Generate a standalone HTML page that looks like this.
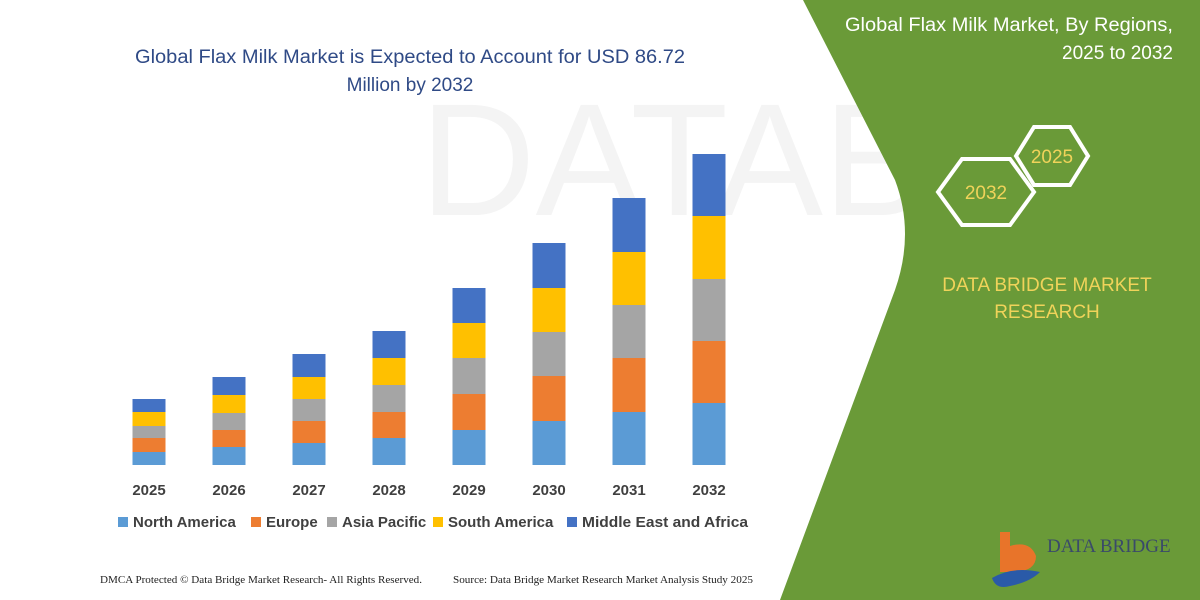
<!DOCTYPE html>
<html><head><meta charset="utf-8"><style>
body{margin:0;width:1200px;height:600px;overflow:hidden;background:#fff;font-family:"Liberation Sans",sans-serif}
</style></head><body>
<svg width="1200" height="600" xmlns="http://www.w3.org/2000/svg" style="position:absolute;left:0;top:0">
<rect width="1200" height="600" fill="#fff"/>
<text x="420" y="215" font-size="160" fill="#f4f4f4" font-family="Liberation Sans">DATABRIDGE</text>
<path d="M803,0 L1200,0 L1200,600 L780,600 L895,290 Q915,233 895,180 Z" fill="#6a9a38"/>
<text x="1173" y="31" font-size="19" fill="#fff" text-anchor="end" textLength="328" lengthAdjust="spacingAndGlyphs">Global Flax Milk Market, By Regions,</text>
<text x="1173" y="59" font-size="19" fill="#fff" text-anchor="end">2025 to 2032</text>
<polygon points="938,192 962,159 1010,159 1034,192 1010,225 962,225" fill="none" stroke="#fff" stroke-width="4"/>
<polygon points="1016,156 1034,127 1070,127 1088,156 1070,185 1034,185" fill="none" stroke="#fff" stroke-width="4"/>
<text x="986" y="199" font-size="19" fill="#f0d35a" text-anchor="middle">2032</text>
<text x="1052" y="163" font-size="19" fill="#f0d35a" text-anchor="middle">2025</text>
<text x="1047" y="291" font-size="19" fill="#f0d35a" text-anchor="middle">DATA BRIDGE MARKET</text>
<text x="1047" y="318" font-size="19" fill="#f0d35a" text-anchor="middle">RESEARCH</text>
<path d="M1000,532 h10 v14 q20,-6 26,10 q0,16 -24,16 h-12 z" fill="#e8742a"/>
<path d="M992,578 q20,-12 48,-6 q-10,10 -30,14 q-14,4 -18,-8z" fill="#2a5aa8"/>
<text x="1047" y="552" font-size="19" fill="#3a4a6a" font-family="Liberation Serif">DATA BRIDGE</text>
<text x="410" y="63" font-size="19" fill="#2f4a86" text-anchor="middle" textLength="550" lengthAdjust="spacingAndGlyphs">Global Flax Milk Market is Expected to Account for USD 86.72</text>
<text x="410" y="91" font-size="19" fill="#2f4a86" text-anchor="middle">Million by 2032</text>
<g id="bars"></g>
<g font-size="15" font-weight="bold" fill="#404040" text-anchor="middle">
<text x="149" y="495">2025</text><text x="229" y="495">2026</text><text x="309" y="495">2027</text><text x="389" y="495">2028</text><text x="469" y="495">2029</text><text x="549" y="495">2030</text><text x="629" y="495">2031</text><text x="709" y="495">2032</text>
</g>
<g font-size="15" font-weight="bold" fill="#404040">
<rect x="118" y="517" width="10" height="10" fill="#5b9bd5"/><text x="133" y="527">North America</text>
<rect x="251" y="517" width="10" height="10" fill="#ed7d31"/><text x="266" y="527">Europe</text>
<rect x="327" y="517" width="10" height="10" fill="#a5a5a5"/><text x="342" y="527">Asia Pacific</text>
<rect x="433" y="517" width="10" height="10" fill="#ffc000"/><text x="448" y="527">South America</text>
<rect x="567" y="517" width="10" height="10" fill="#4472c4"/><text x="582" y="527" textLength="166" lengthAdjust="spacingAndGlyphs">Middle East and Africa</text>
</g>
<text x="100" y="583" font-size="10.5" fill="#222" font-family="Liberation Serif" textLength="322" lengthAdjust="spacingAndGlyphs">DMCA Protected © Data Bridge Market Research-  All Rights Reserved.</text>
<text x="453" y="583" font-size="10.5" fill="#222" font-family="Liberation Serif" textLength="300" lengthAdjust="spacingAndGlyphs">Source: Data Bridge Market Research  Market Analysis Study 2025</text>
</svg>
<script>
var d=[[149,452,438,426,412,399],[229,447,430,413,395,377],[309,443,421,399,377,354],[389,438,412,385,358,331],[469,430,394,358,323,288],[549,421,376,332,288,243],[629,412,358,305,252,198],[709,403,341,279,216,154]];
var c=["#5b9bd5","#ed7d31","#a5a5a5","#ffc000","#4472c4"],s="";
d.forEach(function(b){var prev=465;for(var i=0;i<5;i++){s+='<rect x="'+(b[0]-16.5)+'" y="'+b[i+1]+'" width="33" height="'+(prev-b[i+1])+'" fill="'+c[i]+'"/>';prev=b[i+1];}});
document.getElementById("bars").innerHTML=s;
</script>
</body></html>
